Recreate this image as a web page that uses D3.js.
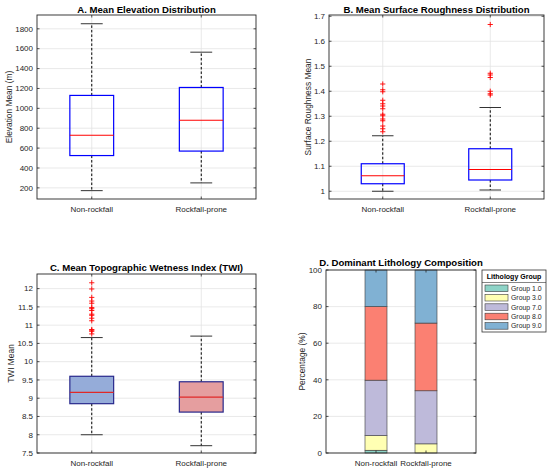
<!DOCTYPE html>
<html lang="en">
<head>
    <meta charset="UTF-8">
    <title>Rockfall terrain comparison</title>
    <script src="https://d3js.org/d3.v7.min.js"></script>
    <style>
        body { margin: 0; background: #fff; }
        svg { font-family: "Liberation Sans", Arial, sans-serif; }
        .tick-label { font-size: 8px; fill: #262626; }
        .axis-label { font-size: 8.4px; fill: #262626; }
        .panel-title { font-size: 9.6px; font-weight: bold; fill: #000; }
    </style>
</head>
<body>
    <script>
        const categories = ["Non-rockfall", "Rockfall-prone"]

        // box stats per group: [lower whisker, Q1, median, Q3, upper whisker]
        const elevationStats = [[172, 525, 730, 1130, 1851], [250, 570, 880, 1210, 1565]]
        const elevationOutliers = [[], []]
        const elevationTicks = [200, 400, 600, 800, 1000, 1200, 1400, 1600, 1800]

        const roughnessStats = [[1.0, 1.03, 1.062, 1.11, 1.222], [1.005, 1.045, 1.087, 1.17, 1.335]]
        const roughnessOutliers = [
            [1.429, 1.406, 1.398, 1.364, 1.350, 1.341, 1.330, 1.308, 1.302, 1.289, 1.282, 1.261, 1.250, 1.238],
            [1.667, 1.472, 1.465, 1.455, 1.40, 1.39, 1.385]
        ]
        const roughnessTicks = [1, 1.1, 1.2, 1.3, 1.4, 1.5, 1.6, 1.7]

        const twiStats = [[8.0, 8.85, 9.16, 9.6, 10.66], [7.7, 8.62, 9.03, 9.45, 10.7]]
        const twiOutliers = [
            [12.16, 11.99, 11.76, 11.66, 11.6, 11.48, 11.45, 11.40, 11.30, 11.27, 11.19, 11.12, 10.88, 10.86, 10.83, 10.76],
            []
        ]
        const twiTicks = [7.5, 8, 8.5, 9, 9.5, 10, 10.5, 11, 11.5, 12]

        const lithoGroups = ["Group 1.0", "Group 3.0", "Group 7.0", "Group 8.0", "Group 9.0"]
        const lithoNonRockfall = [1.5, 8, 30.3, 40.2, 20]
        const lithoRockfall = [0, 5, 29, 37, 29]
        const lithoColors = ["#8dd3c7", "#ffffb3", "#bebada", "#fb8072", "#80b1d3"]
        const percentTicks = [0, 20, 40, 60, 80, 100]

        const svg = d3.select("body").append("svg")
            .attr("width", 550)
            .attr("height", 471)

        const fmt = d => String(+d.toFixed(2))

        function drawFrame(p, y, ticks, xTicks, x, vGrid) {
            const g = svg.append("g").attr("transform", "translate(" + p.left + "," + p.top + ")")
            // grid
            g.selectAll(".hgrid").data(ticks).enter().append("line")
                .attr("x1", 0).attr("x2", p.width)
                .attr("y1", d => y(d)).attr("y2", d => y(d))
                .attr("stroke", "#e3e3e3").attr("stroke-width", 0.8)
            if (vGrid) {
                g.selectAll(".vgrid").data(xTicks).enter().append("line")
                    .attr("x1", d => x(d)).attr("x2", d => x(d))
                    .attr("y1", 0).attr("y2", p.height)
                    .attr("stroke", "#e3e3e3").attr("stroke-width", 0.8)
            }
            return g
        }

        function finishFrame(g, p, y, ticks, xTicks, x, labels, yLabel, yLabelOffset, title, titleY) {
            // ticks inside on all sides
            ticks.forEach(t => {
                g.append("line").attr("x1", 0).attr("x2", 2.5).attr("y1", y(t)).attr("y2", y(t)).attr("stroke", "#262626").attr("stroke-width", 0.8)
                g.append("line").attr("x1", p.width).attr("x2", p.width - 2.5).attr("y1", y(t)).attr("y2", y(t)).attr("stroke", "#262626").attr("stroke-width", 0.8)
            })
            xTicks.forEach(t => {
                g.append("line").attr("x1", x(t)).attr("x2", x(t)).attr("y1", p.height).attr("y2", p.height - 2.5).attr("stroke", "#262626").attr("stroke-width", 0.8)
                g.append("line").attr("x1", x(t)).attr("x2", x(t)).attr("y1", 0).attr("y2", 2.5).attr("stroke", "#262626").attr("stroke-width", 0.8)
            })
            g.append("rect")
                .attr("width", p.width).attr("height", p.height)
                .attr("fill", "none").attr("stroke", "#262626").attr("stroke-width", 0.9)

            g.selectAll(".ylab").data(ticks).enter().append("text")
                .attr("class", "tick-label")
                .attr("x", -4).attr("y", d => y(d)).attr("dy", "0.35em")
                .attr("text-anchor", "end")
                .text(fmt)

            g.selectAll(".xlab").data(xTicks).enter().append("text")
                .attr("class", "tick-label")
                .attr("x", d => x(d)).attr("y", p.height + 12.5)
                .attr("text-anchor", "middle")
                .text((d, i) => labels[i])

            g.append("text")
                .attr("class", "axis-label")
                .attr("transform", "rotate(-90)")
                .attr("x", -p.height / 2).attr("y", -yLabelOffset)
                .attr("text-anchor", "middle")
                .text(yLabel)

            g.append("text")
                .attr("class", "panel-title")
                .attr("x", p.width / 2).attr("y", titleY)
                .attr("text-anchor", "middle")
                .text(title)
        }

        function boxPanel(p, domain, ticks, stats, outliers, style, yLabel, yLabelOffset, title, titleY) {
            const x = d3.scaleLinear().domain([0.5, 2.5]).range([0, p.width])
            const y = d3.scaleLinear().domain(domain).range([p.height, 0])
            const g = drawFrame(p, y, ticks, [1, 2], x, true)
            const half = x(1.2) - x(1)
            const cap = x(1.1) - x(1)

            stats.forEach((s, i) => {
                const cx = x(i + 1)
                // whiskers
                g.append("line").attr("x1", cx).attr("x2", cx).attr("y1", y(s[3])).attr("y2", y(s[4]))
                    .attr("stroke", "#000").attr("stroke-width", 1).attr("stroke-dasharray", "2.5,2")
                g.append("line").attr("x1", cx).attr("x2", cx).attr("y1", y(s[1])).attr("y2", y(s[0]))
                    .attr("stroke", "#000").attr("stroke-width", 1).attr("stroke-dasharray", "2.5,2")
                g.append("line").attr("x1", cx - cap).attr("x2", cx + cap).attr("y1", y(s[4])).attr("y2", y(s[4]))
                    .attr("stroke", "#333").attr("stroke-width", 1)
                g.append("line").attr("x1", cx - cap).attr("x2", cx + cap).attr("y1", y(s[0])).attr("y2", y(s[0]))
                    .attr("stroke", "#333").attr("stroke-width", 1)
                // box
                g.append("rect")
                    .attr("x", cx - half).attr("y", y(s[3]))
                    .attr("width", 2 * half).attr("height", y(s[1]) - y(s[3]))
                    .attr("fill", style.fill[i]).attr("stroke", style.edge).attr("stroke-width", 1.2)
                g.append("line").attr("x1", cx - half).attr("x2", cx + half).attr("y1", y(s[2])).attr("y2", y(s[2]))
                    .attr("stroke", style.median).attr("stroke-width", 1.1)
                // outliers
                outliers[i].forEach(v => {
                    g.append("path")
                        .attr("d", "M" + (cx - 2.6) + "," + y(v) + "h5.2M" + cx + "," + (y(v) - 2.6) + "v5.2")
                        .attr("stroke", "#ff0000").attr("stroke-width", 0.9).attr("fill", "none")
                })
            })
            finishFrame(g, p, y, ticks, [1, 2], x, categories, yLabel, yLabelOffset, title, titleY)
        }

        const plain = { fill: ["none", "none"], edge: "#0000ff", median: "#ff0000" }
        const filled = { fill: ["#95acd9", "#e59e9f"], edge: "#28288c", median: "#e02828" }

        boxPanel({ left: 37, top: 15, width: 219, height: 184 }, [88, 1939], elevationTicks,
            elevationStats, elevationOutliers, plain, "Elevation Mean (m)", 25, "A. Mean Elevation Distribution", -2)
        boxPanel({ left: 329, top: 15, width: 215, height: 184 }, [0.969, 1.705], roughnessTicks,
            roughnessStats, roughnessOutliers, plain, "Surface Roughness Mean", 18, "B. Mean Surface Roughness Distribution", -2)
        boxPanel({ left: 37, top: 274, width: 219, height: 179 }, [7.5, 12.4], twiTicks,
            twiStats, twiOutliers, filled, "TWI Mean", 23, "C. Mean Topographic Wetness Index (TWI)", -3)

        // D: stacked bars
        const pD = { left: 326, top: 270, width: 150, height: 183 }
        const xD = d3.scaleLinear().domain([0, 3]).range([0, pD.width])
        const yD = d3.scaleLinear().domain([0, 100]).range([pD.height, 0])
        const gD = drawFrame(pD, yD, percentTicks, [1, 2], xD, false)
        const barHalf = xD(1.22) - xD(1)
        const series = [lithoNonRockfall, lithoRockfall]
        series.forEach((vals, i) => {
            const stacked = d3.cumsum(vals)
            gD.selectAll(".seg" + i).data(vals).enter().append("rect")
                .attr("x", xD(i + 1) - barHalf)
                .attr("width", 2 * barHalf)
                .attr("y", (d, j) => yD(stacked[j]))
                .attr("height", d => yD(0) - yD(d))
                .attr("fill", (d, j) => lithoColors[j])
                .attr("stroke", "#3a3a3a").attr("stroke-width", 0.6)
        })
        finishFrame(gD, pD, yD, percentTicks, [1, 2], xD, categories, "Percentage (%)", 21, "D. Dominant Lithology Composition", -4)

        // legend
        const leg = svg.append("g").attr("transform", "translate(482,270)")
        leg.append("rect").attr("width", 64).attr("height", 62)
            .attr("fill", "#fff").attr("stroke", "#333").attr("stroke-width", 0.8)
        leg.append("line").attr("x1", 0).attr("x2", 64).attr("y1", 12.5).attr("y2", 12.5)
            .attr("stroke", "#333").attr("stroke-width", 0.6)
        leg.append("text").attr("x", 32).attr("y", 9.3).attr("text-anchor", "middle")
            .style("font-size", "7px").style("font-weight", "bold").attr("fill", "#000")
            .text("Lithology Group")
        lithoGroups.forEach((name, j) => {
            const yy = 18.3 + j * 9.4
            leg.append("rect").attr("x", 3).attr("y", yy - 3.3).attr("width", 23).attr("height", 6.6)
                .attr("fill", lithoColors[j]).attr("stroke", "#3a3a3a").attr("stroke-width", 0.6)
            leg.append("text").attr("x", 29).attr("y", yy).attr("dy", "0.35em")
                .style("font-size", "6.9px").attr("fill", "#262626")
                .text(name)
        })
    </script>
</body>
</html>
